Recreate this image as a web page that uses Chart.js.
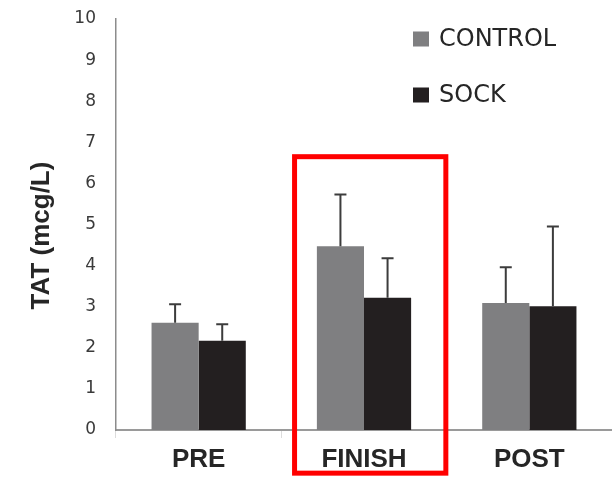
<!DOCTYPE html>
<html>
<head>
<meta charset="utf-8">
<script src="https://cdn.jsdelivr.net/npm/chart.js@4/dist/chart.umd.min.js"></script>
<style>
  html, body { margin: 0; padding: 0; background: #fff; }
  #wrap { width: 612px; height: 477px; overflow: hidden; }
</style>
</head>
<body>
<div id="wrap"><canvas id="c" width="612" height="477"></canvas></div>
<script>
// Time points
const categories = ['PRE', 'FINISH', 'POST'];

// Mean TAT (mcg/L) per group
const controlValues = [2.61, 4.47, 3.09];
const sockValues = [2.17, 3.22, 3.01];

// Error bar heights (drawn upward only)
const controlErrors = [0.45, 1.26, 0.87];
const sockErrors = [0.40, 0.96, 1.94];

// Y axis ticks and title
const yTicks = [0, 1, 2, 3, 4, 5, 6, 7, 8, 9, 10];
const yTitle = 'TAT (mcg/L)';

// Highlighted region around FINISH, in scale units (category index, TAT)
const highlightX = [0.58, 1.495];
const highlightY = [-1.05, 6.65];

const errorBars = {
  id: 'errorBars',
  afterDatasetsDraw(chart) {
    const ctx = chart.ctx;
    const y = chart.scales.y;
    ctx.save();
    ctx.strokeStyle = '#3c3c3c';
    ctx.lineWidth = 2;
    chart.data.datasets.forEach((ds, i) => {
      const meta = chart.getDatasetMeta(i);
      meta.data.forEach((bar, j) => {
        const top = y.getPixelForValue(ds.data[j] + ds.errors[j]);
        const base = y.getPixelForValue(ds.data[j]);
        ctx.beginPath();
        ctx.moveTo(bar.x, base);
        ctx.lineTo(bar.x, top);
        ctx.moveTo(bar.x - 6, top);
        ctx.lineTo(bar.x + 6, top);
        ctx.stroke();
      });
    });
    ctx.restore();
  }
};

const highlightBox = {
  id: 'highlightBox',
  afterDraw(chart) {
    const { ctx, scales: { x, y } } = chart;
    const band = x.getPixelForValue(1) - x.getPixelForValue(0);
    const x0 = x.getPixelForValue(0) + highlightX[0] * band;
    const x1 = x.getPixelForValue(0) + highlightX[1] * band;
    const y0 = y.getPixelForValue(highlightY[1]);
    const y1 = y.getPixelForValue(highlightY[0]);
    ctx.save();
    ctx.strokeStyle = '#ff0000';
    ctx.lineWidth = 5;
    ctx.strokeRect(x0, y0, x1 - x0, y1 - y0);
    ctx.restore();
  }
};

// Rotated axis title, centred a little below the plot's middle
const axisTitle = {
  id: 'axisTitle',
  afterDraw(chart) {
    const { ctx, chartArea } = chart;
    const cy = (chartArea.top + chartArea.bottom) / 2 + 11;
    ctx.save();
    ctx.translate(42, cy);
    ctx.rotate(-Math.PI / 2);
    ctx.font = 'bold 26px "Liberation Sans"';
    ctx.fillStyle = '#262626';
    ctx.textAlign = 'center';
    ctx.textBaseline = 'middle';
    ctx.fillText(yTitle, 0, 0);
    ctx.restore();
  }
};

const sideLegend = {
  id: 'sideLegend',
  afterDraw(chart) {
    const ctx = chart.ctx;
    const left = 413;
    const rows = [39, 95];
    ctx.save();
    ctx.font = '24px "DejaVu Sans"';
    ctx.textBaseline = 'middle';
    ctx.textAlign = 'left';
    chart.data.datasets.forEach((ds, i) => {
      const cy = rows[i];
      ctx.fillStyle = ds.backgroundColor;
      ctx.fillRect(left, cy - 7.5, 16, 15);
      ctx.fillStyle = '#262626';
      ctx.fillText(ds.label, left + 26, cy + 1);
    });
    ctx.restore();
  }
};

new Chart(document.getElementById('c'), {
  type: 'bar',
  data: {
    labels: categories,
    datasets: [
      { label: 'CONTROL', data: controlValues, errors: controlErrors, backgroundColor: '#7f7f81' },
      { label: 'SOCK', data: sockValues, errors: sockErrors, backgroundColor: '#231f20' }
    ]
  },
  options: {
    responsive: false,
    animation: false,
    devicePixelRatio: 1,
    layout: { padding: { left: 0, right: -5, top: 19, bottom: 0 } },
    datasets: { bar: { categoryPercentage: 0.57, barPercentage: 1.0 } },
    plugins: { legend: { display: false }, tooltip: { enabled: false } },
    scales: {
      x: {
        grid: { display: true, drawOnChartArea: false, offset: true, tickLength: 8, color: '#dcdcdc', lineWidth: 1 },
        border: { display: true, color: '#9a9a9a', width: 2 },
        ticks: { color: '#262626', font: { family: 'Liberation Sans', size: 26, weight: 'bold' }, padding: 6 },
        afterFit(scale) { scale.height = 47; }
      },
      y: {
        min: 0, max: 10,
        afterBuildTicks(scale) { scale.ticks = yTicks.map(v => ({ value: v })); },
        grid: { display: false, drawTicks: true, tickLength: 20 },
        border: { display: true, color: '#8c8c8c', width: 1.5 },
        ticks: { color: '#3a3a3a', font: { family: 'DejaVu Sans', size: 17 }, padding: 0 },
        afterFit(scale) { scale.width = 116; }
      }
    }
  },
  plugins: [errorBars, highlightBox, axisTitle, sideLegend]
});
</script>
</body>
</html>
